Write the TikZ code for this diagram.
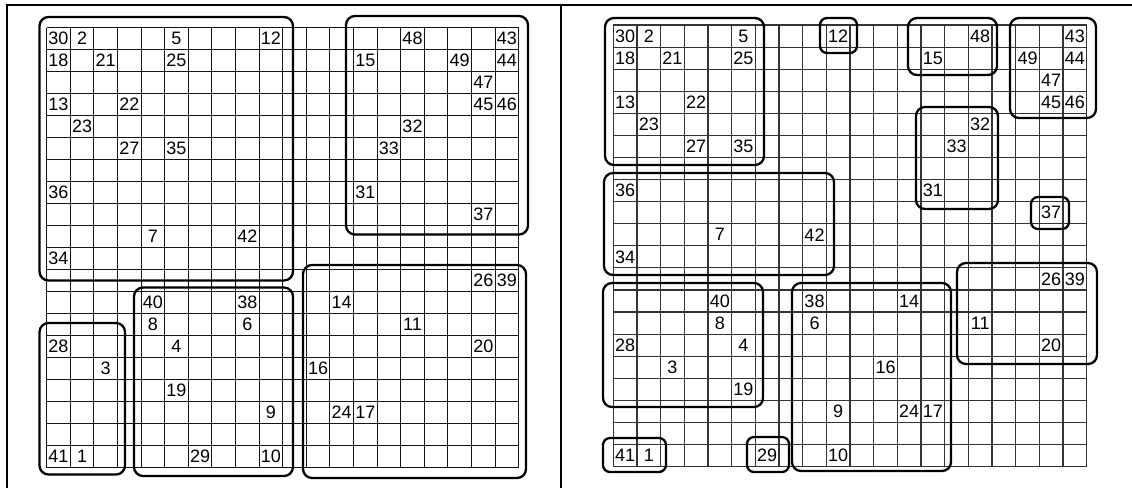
\documentclass[tikz,border=0pt]{standalone}
\usepackage{fontspec}
\setmainfont{Liberation Sans}
\begin{document}
\begin{tikzpicture}[x=1pt,y=-1pt,
  lbl/.style={font=\fontsize{18}{18}\selectfont, inner sep=0pt, anchor=center},
  grp/.style={draw=black, line width=2.3pt, rounded corners=9pt},
  grpsmall/.style={draw=black, line width=2.3pt, rounded corners=7pt},
  gridL/.style={draw=black!92, line width=1pt},
  gridR/.style={draw=black!80, line width=1.1pt},
  frameline/.style={draw=black, line width=2.2pt}]
\useasboundingbox (0,0) rectangle (1132,488);
% frame
\draw[frameline] (7,488) -- (7,5) -- (1132,5);
\draw[frameline] (561,5) -- (561,488);
% grids
\foreach \i in {0,...,20} {
  \draw[gridL] ({46.7+23.6*\i},27.7) -- ({46.7+23.6*\i},467.7);
  \draw[gridL] (46.7,{27.7+22*\i}) -- (518.7,{27.7+22*\i});
  \draw[gridR] ({613.3+23.67*\i},25) -- ({613.3+23.67*\i},466.6);
  \draw[gridR] (613.3,{25+22.08*\i}) -- (1086.7,{25+22.08*\i});
}
% labels
\foreach \n/\c/\r in {30/0/0, 2/1/0, 5/5/0, 12/9/0, 48/15/0, 43/19/0,
  18/0/1, 21/2/1, 25/5/1, 15/13/1, 49/17/1, 44/19/1,
  47/18/2,
  13/0/3, 22/3/3, 45/18/3, 46/19/3,
  23/1/4, 32/15/4,
  27/3/5, 35/5/5, 33/14/5,
  36/0/7, 31/13/7,
  37/18/8,
  7/4/9, 42/8/9,
  34/0/10,
  26/18/11, 39/19/11,
  40/4/12, 38/8/12, 14/12/12,
  8/4/13, 6/8/13, 11/15/13,
  28/0/14, 4/5/14, 20/18/14,
  3/2/15, 16/11/15,
  19/5/16,
  9/9/17, 24/12/17, 17/13/17,
  41/0/19, 1/1/19, 29/6/19, 10/9/19} {
  \node[lbl] (l\n) at ({46.7+23.6*(\c+0.5)},{27.7+22*(\r+0.5)}) {\n};
  \node[lbl] (r\n) at ({613.3+23.67*(\c+0.5)},{25+22.08*(\r+0.5)}) {\n};
}
% left panel groups
\draw[grp] (39.5,17) rectangle (293,280.5);
\draw[grp] (346,16) rectangle (528,234.5);
\draw[grp] (39.5,323) rectangle (125,474.5);
\draw[grp] (134,287.5) rectangle (293,476);
\draw[grp] (303,265) rectangle (526,478);
% right panel groups
\draw[grp] (605,18) rectangle (764,165);
\draw[grpsmall] (820,18) rectangle (857,53);
\draw[grp] (908,18) rectangle (997,75);
\draw[grp] (1010,18) rectangle (1096,118);
\draw[grp] (916,107) rectangle (998,209);
\draw[grpsmall] (1031,197) rectangle (1069,229);
\draw[grp] (604,173) rectangle (834,275);
\draw[grp] (603,283) rectangle (763,407);
\draw[grpsmall] (603,438) rectangle (666,472);
\draw[grpsmall] (747,437) rectangle (789,472);
\draw[grp] (792,283) rectangle (951,471);
\draw[grp] (957,263) rectangle (1097,364);
\end{tikzpicture}
\end{document}
